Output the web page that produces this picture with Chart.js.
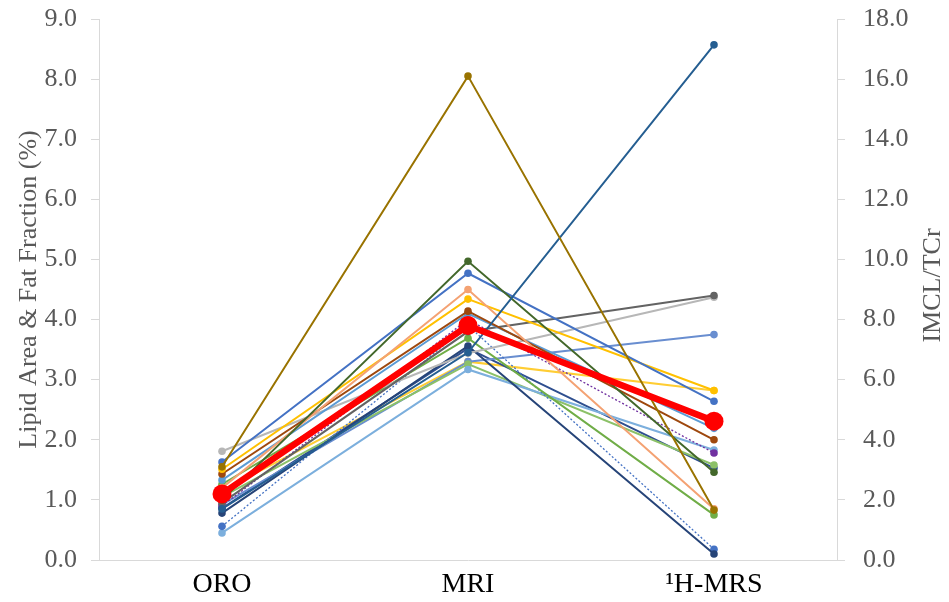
<!DOCTYPE html>
<html><head><meta charset="utf-8">
<script src="https://cdn.jsdelivr.net/npm/chart.js@4/dist/chart.umd.min.js"></script>
<style>html,body{margin:0;padding:0;background:#fff}#w{width:949px;height:602px}</style>
</head><body><div id="w"><canvas id="c"></canvas></div>
<script>
const categories = ['ORO', 'MRI', '\u00B9H-MRS'];
const leftTicks = [0,1,2,3,4,5,6,7,8,9];
const rightTitle = 'IMCL/TCr';
// per-subject values (left axis units; 1H-MRS plotted on same scale, right axis = 2x)
const s1  = [1.55, 8.05, 0.83];
const s2  = [0.85, 3.45, 8.57];
const s3  = [1.00, 4.97, 1.46];
const s4  = [1.63, 4.77, 2.64];
const s5  = [1.20, 4.50, 0.85];
const s6  = [1.51, 4.34, 2.82];
const s7  = [1.43, 4.14, 2.00];
const s8  = [1.33, 4.10, 2.19];
const s9  = [0.95, 3.80, 4.40];
const s10 = [1.81, 3.44, 4.37];
const s11 = [1.26, 3.69, 0.75];
const s12 = [0.78, 3.56, 0.10];
const s13 = [0.56, 3.90, 0.18];
const s14 = [0.90, 4.00, 1.78];
const s15 = [0.45, 3.17, 1.83];
const s16 = [1.05, 3.26, 1.58];
const s17 = [0.92, 3.30, 3.75];
const s18 = [0.86, 3.52, 1.53];
const s19 = [1.15, 3.30, 2.82];
const meanVals = [1.10, 3.90, 2.31];

function ds(data, color, dashed){
  return {data, borderColor: color, backgroundColor: color, borderWidth: dashed?1.3:2,
    borderDash: dashed?[2,2]:[], pointRadius: 3.8, pointHoverRadius: 3.8, pointBorderWidth:0, yAxisID:'y'};
}
const datasets = [
  ds(s1,'#997300'), ds(s2,'#255E91'), ds(s3,'#43682B'), ds(s4,'#4472C4'),
  ds(s5,'#F4A273'), ds(s6,'#FFC000'), ds(s7,'#9E480E'), ds(s8,'#5B9BD5'),
  ds(s9,'#636363'), ds(s10,'#B7B7B7'), ds(s11,'#70AD47'), ds(s12,'#264478'),
  ds(s13,'#4472C4',true), ds(s14,'#7030A0',true), ds(s15,'#7CAFDD'), ds(s16,'#8CC168'),
  ds(s17,'#698ED0'), ds(s18,'#2F4F8F'), ds(s19,'#FFCD33'),
  {data: meanVals, borderColor:'#FF0000', backgroundColor:'#FF0000', borderWidth:6.5,
   pointRadius:9.5, pointHoverRadius:9.5, pointBorderWidth:0, yAxisID:'y', order:-1}
];
const font = 'Liberation Serif';
const rightTitlePlugin = {
  id:'rt',
  afterDraw(chart){
    const ctx = chart.ctx, a = chart.chartArea;
    ctx.save();
    ctx.translate(933, (a.top + a.bottom)/2 - 4);
    ctx.rotate(-Math.PI/2);
    ctx.font = '26px "' + font + '"';
    ctx.fillStyle = '#595959';
    ctx.textAlign = 'center'; ctx.textBaseline = 'middle';
    ctx.fillText(rightTitle, 0, 0);
    ctx.restore();
  }
};
function fitV(w){ return s=>{ s.width=w; s.paddingTop=0; s.paddingBottom=0; }; }
new Chart(document.getElementById('c'), {
  type:'line',
  data:{labels:categories, datasets},
  plugins:[rightTitlePlugin],
  options:{
    responsive:true, maintainAspectRatio:false, animation:false,
    layout:{padding:{top:19,left:0,right:0,bottom:0}},
    plugins:{legend:{display:false}, tooltip:{enabled:false}},
    elements:{line:{tension:0}},
    scales:{
      x:{offset:true, grid:{display:false, drawTicks:false}, border:{color:'#D9D9D9',width:1},
         afterFit:s=>{s.height=42; s.paddingLeft=0; s.paddingRight=0;},
         ticks:{color:'#000', font:{family:font,size:28}, padding:8}},
      y:{position:'left', min:0, max:9, afterBuildTicks:a=>{a.ticks=leftTicks.map(v=>({value:v}));},
         afterFit:fitV(99),
         grid:{drawOnChartArea:false, color:'#D9D9D9', tickLength:8}, border:{color:'#D9D9D9'},
         ticks:{color:'#595959', font:{family:font,size:26}, callback:v=>v.toFixed(1), padding:14},
         title:{display:true, text:'Lipid Area & Fat Fraction (%)', color:'#595959', font:{family:font,size:26}, padding:{top:14,bottom:0}}},
      y2:{position:'right', min:0, max:18, afterFit:fitV(112),
         ticks:{stepSize:2, color:'#595959', font:{family:font,size:26}, callback:v=>v.toFixed(1), padding:18},
         grid:{drawOnChartArea:false, color:'#D9D9D9', tickLength:8}, border:{color:'#D9D9D9'}}
    }
  }
});
</script></body></html>
